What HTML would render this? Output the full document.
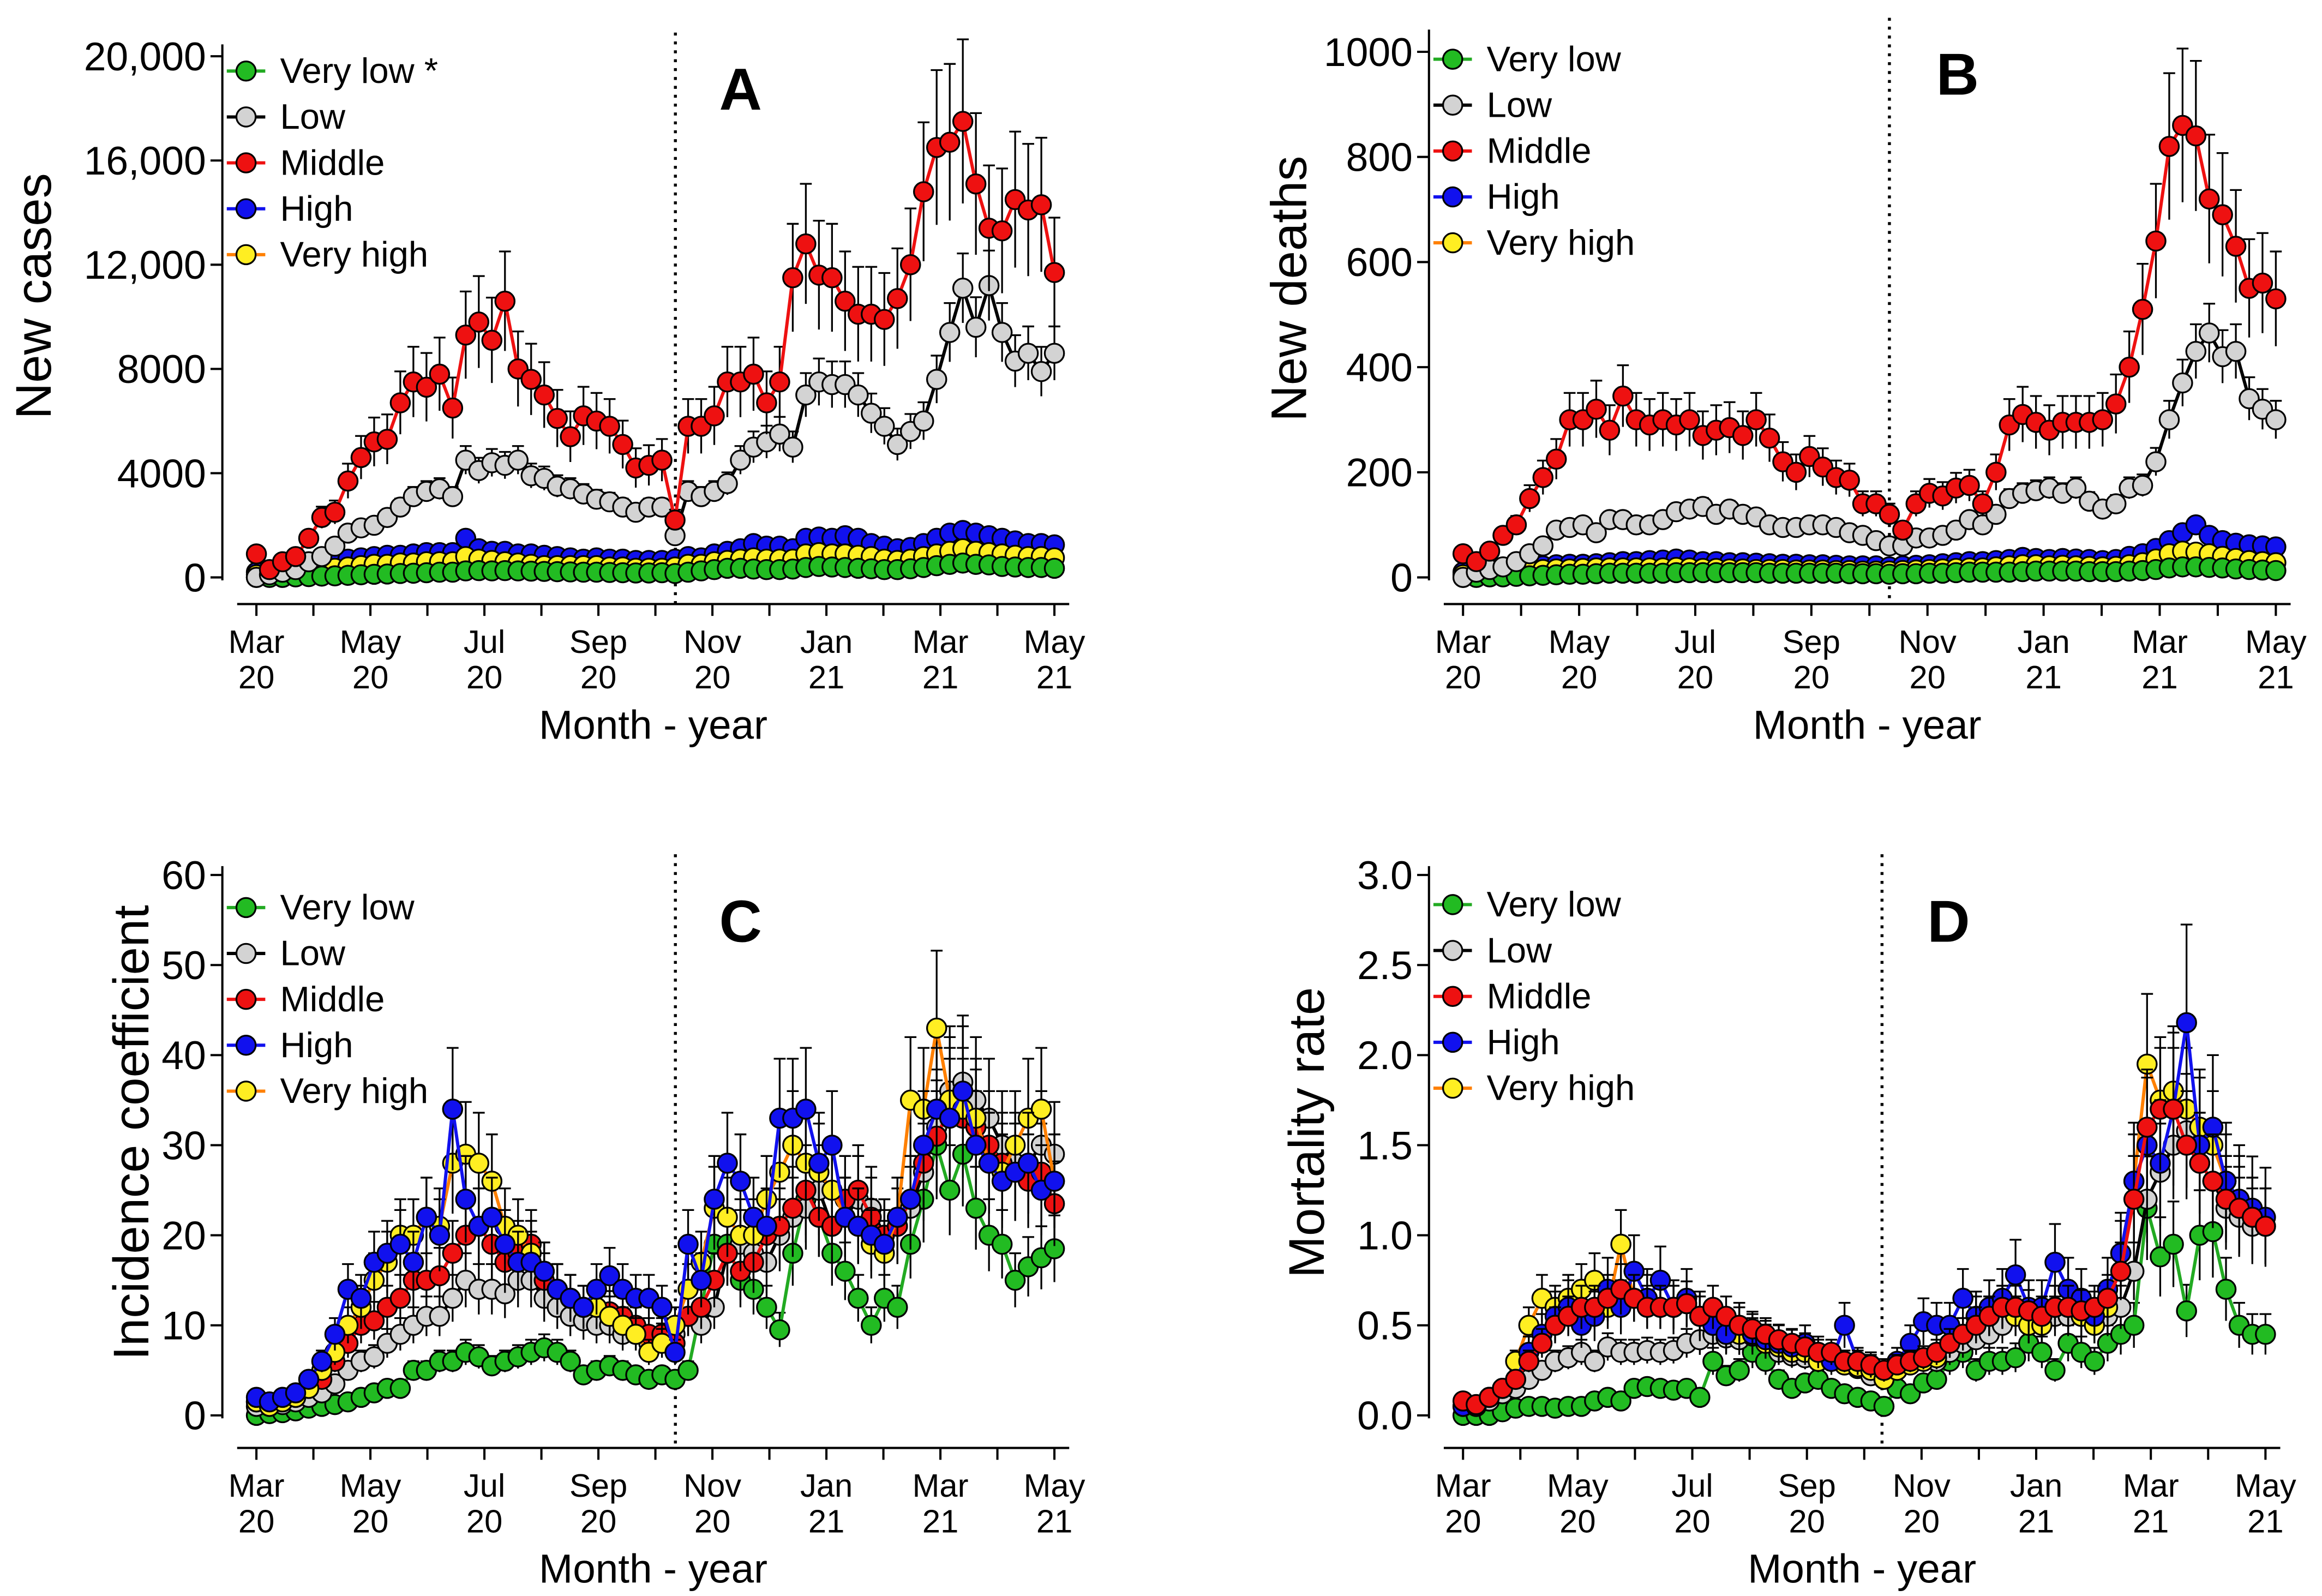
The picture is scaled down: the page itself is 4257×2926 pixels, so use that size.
<!DOCTYPE html>
<html><head><meta charset="utf-8"><style>html,body{margin:0;padding:0;background:#fff}svg{display:block}text{font-family:"Liberation Sans",sans-serif;fill:#000}</style></head>
<body>
<svg id="chart" xmlns="http://www.w3.org/2000/svg" width="4257" height="2926" viewBox="0 0 1568 1078"></svg>
<script>
const seriesNames = ["Very low","Low","Middle","High","Very high"];
const monthLabels = ["Mar","Apr","May","Jun","Jul","Aug","Sep","Oct","Nov","Dec","Jan","Feb","Mar","Apr","May"];
const yearLabels = ["20","20","20","20","20","20","20","20","20","20","21","21","21","21","21"];

const aVeryLow=[0,0,0,20,30,50,60,80,100,120,130,150,160,180,200,200,250,260,250,260,250,240,230,220,210,200,200,190,180,170,170,180,150,200,250,300,350,350,320,300,300,320,380,420,400,380,350,330,300,300,330,380,450,500,550,500,480,420,400,380,380,350];
const aLow=[0,100,200,300,600,800,1200,1700,1900,2000,2300,2700,3100,3300,3400,3100,4500,4100,4400,4300,4500,3900,3800,3500,3400,3200,3000,2900,2700,2500,2700,2700,1600,3300,3100,3300,3600,4500,5000,5200,5500,5000,7000,7500,7400,7400,7000,6300,5800,5100,5600,6000,7600,9400,11100,9600,11200,9400,8300,8600,7900,8600];
const aMiddle=[900,300,600,800,1500,2300,2500,3700,4600,5200,5300,6700,7500,7300,7800,6500,9300,9800,9100,10600,8000,7600,7000,6100,5400,6200,6000,5800,5100,4200,4300,4500,2200,5800,5800,6200,7500,7500,7800,6700,7500,11500,12800,11600,11500,10600,10100,10100,9900,10700,12000,14800,16500,16700,17500,15100,13400,13300,14500,14100,14300,11700];
const aHigh=[200,200,250,300,400,500,600,700,750,800,850,850,900,950,950,950,1500,1100,1000,1000,900,900,850,800,750,700,750,700,700,650,650,650,700,800,750,900,1000,1100,1300,1200,1200,1100,1500,1550,1500,1600,1500,1300,1200,1100,1150,1300,1500,1700,1800,1700,1600,1500,1400,1300,1300,1250];
const aVeryHigh=[100,100,150,200,250,300,350,400,450,500,500,550,550,600,600,600,800,700,650,600,550,500,450,450,450,450,450,400,400,350,350,350,400,500,500,600,650,700,750,700,700,700,900,950,900,900,850,800,700,650,700,800,900,1000,1100,1000,950,900,850,800,800,750];

const bVeryLow=[0,0,1,1,2,3,4,5,6,6,7,8,8,8,8,8,9,9,9,9,9,9,9,8,8,8,8,8,8,7,7,7,6,7,7,8,8,9,10,10,10,10,11,12,12,12,12,11,11,11,12,13,15,18,20,20,19,18,16,15,14,13];
const bLow=[0,10,15,20,30,45,60,90,95,100,85,110,110,100,100,110,125,130,135,120,130,120,115,100,95,95,100,100,95,85,80,70,60,60,75,75,80,90,110,100,120,150,160,165,170,160,170,145,130,140,170,175,220,300,370,430,465,420,430,340,320,300];
const bMiddle=[45,30,50,80,100,150,190,225,300,300,320,280,345,300,290,300,290,300,270,280,285,270,300,265,220,200,230,210,190,185,140,140,120,90,140,160,155,170,175,140,200,290,310,295,280,295,295,295,300,330,400,510,640,820,860,840,720,690,630,550,560,530];
const bHigh=[10,12,14,16,18,20,22,24,25,25,26,28,30,30,32,33,35,33,30,30,28,28,27,26,25,25,24,24,23,22,22,22,20,22,23,24,26,28,30,30,32,34,38,36,34,36,35,34,32,34,40,45,55,70,85,100,80,70,65,62,60,58];
const bVeryHigh=[5,6,8,10,12,14,15,16,16,17,18,18,18,18,18,18,19,18,17,17,16,16,15,15,15,14,14,14,13,13,12,12,12,13,14,15,16,17,18,18,20,22,24,24,22,23,22,21,20,21,24,28,35,45,50,48,45,40,36,32,30,28];

const cVeryLow=[0,0.2,0.3,0.5,0.8,1,1.2,1.5,2,2.5,3,3,5,5,6,6,7,6.5,5.5,6,6.5,7,7.5,7,6,4.5,5,5.5,5,4.5,4,4.5,4,5,12,19,19,15,14,12,9.5,18,24,22,18,16,13,10,13,12,19,24,30,25,29,23,20,19,15,16.5,17.5,18.5];
const cLow=[1,1,1.2,1.5,2,2.5,3.5,5,6,6.5,8,9,10,11,11,13,15,14,14,13.5,15,15,13,12,11,10.5,10,10,9,9,8,8.5,9,11,10,12,18,19,18,17,20,22,23,25,21,22,24,23,20,21,23,27,32,36,37,35,33,30,28,28,30,29];
const cMiddle=[1.5,1,1.5,2,3,4,6,8,10,10.5,12,13,15,15,15.5,18,20,21,19,17,18,19,15,14,13,12,12,11.5,11,10,9,9,8,11,12,15,18,16,17,20,21,23,25,22,21,24,25,22,20,21,24,28,31,34,33,32,30,28,27,26,27,23.5];
const cHigh=[2,1.5,2,2.5,4,6,9,14,13,17,18,19,17,22,20,34,24,21,22,19,17,17,16,14,13,12,14,15.5,14,13,13,12,7,19,15,24,28,26,22,21,33,33,34,28,30,22,21,20,19,22,24,30,34,33,36,30,28,26,27,28,25,26];
const cVeryHigh=[1.5,1,1.5,2,3,5,7,10,12,15,17,20,20,22,21,28,29,28,26,21,20,18,16,14,13,12,12,11,10,9,7,8,10,14,17,23,22,20,20,24,27,30,28,27,25,22,21,19,18,22,35,34,43,35,34,33,28,27,30,33,34,26];

const dVeryLow=[0,0,0,0.02,0.04,0.05,0.05,0.04,0.05,0.05,0.08,0.1,0.08,0.15,0.16,0.15,0.14,0.15,0.1,0.3,0.22,0.25,0.35,0.3,0.2,0.15,0.18,0.2,0.15,0.12,0.1,0.08,0.05,0.15,0.12,0.18,0.2,0.3,0.35,0.25,0.3,0.3,0.32,0.4,0.35,0.25,0.4,0.35,0.3,0.4,0.45,0.5,1.15,0.88,0.95,0.58,1.0,1.02,0.7,0.5,0.45,0.45];
const dLow=[0.05,0.05,0.08,0.12,0.15,0.2,0.25,0.3,0.32,0.35,0.3,0.38,0.35,0.35,0.36,0.35,0.36,0.4,0.42,0.45,0.43,0.42,0.44,0.42,0.35,0.33,0.32,0.3,0.3,0.28,0.26,0.22,0.2,0.25,0.28,0.3,0.3,0.35,0.4,0.42,0.45,0.5,0.55,0.5,0.52,0.55,0.55,0.55,0.5,0.55,0.6,0.8,1.2,1.35,1.5,1.58,1.4,1.3,1.15,1.1,1.05,1.05];
const dMiddle=[0.08,0.06,0.1,0.15,0.2,0.3,0.4,0.5,0.55,0.6,0.6,0.65,0.7,0.65,0.6,0.6,0.6,0.62,0.55,0.6,0.55,0.5,0.48,0.45,0.42,0.4,0.38,0.35,0.35,0.3,0.3,0.28,0.25,0.28,0.3,0.32,0.35,0.4,0.45,0.5,0.55,0.6,0.6,0.58,0.55,0.6,0.6,0.58,0.6,0.65,0.8,1.2,1.6,1.7,1.7,1.5,1.4,1.3,1.2,1.15,1.1,1.05];
const dHigh=[0.05,0.05,0.1,0.15,0.2,0.35,0.45,0.55,0.6,0.5,0.55,0.7,0.6,0.8,0.65,0.75,0.6,0.65,0.55,0.5,0.45,0.5,0.45,0.42,0.4,0.38,0.4,0.35,0.3,0.5,0.3,0.28,0.25,0.3,0.4,0.52,0.5,0.5,0.65,0.55,0.6,0.65,0.78,0.6,0.6,0.85,0.7,0.65,0.55,0.7,0.9,1.3,1.5,1.4,1.7,2.18,1.5,1.6,1.3,1.2,1.15,1.1];
const dVeryHigh=[0.05,0.05,0.1,0.15,0.3,0.5,0.65,0.6,0.65,0.7,0.75,0.6,0.95,0.65,0.65,0.6,0.6,0.62,0.55,0.5,0.45,0.45,0.45,0.4,0.38,0.35,0.35,0.3,0.3,0.28,0.27,0.25,0.2,0.25,0.28,0.3,0.32,0.4,0.45,0.55,0.55,0.6,0.55,0.5,0.5,0.6,0.6,0.55,0.5,0.6,0.9,1.3,1.95,1.75,1.8,1.7,1.6,1.5,1.3,1.2,1.1,1.05];

const aTicks=[0,4000,8000,12000,16000,20000];
const aTickLabels=["0","4000","8000","12,000","16,000","20,000"];
const bTicks=[0,200,400,600,800,1000];
const bTickLabels=["0","200","400","600","800","1000"];
const cTicks=[0,10,20,30,40,50,60];
const cTickLabels=["0","10","20","30","40","50","60"];
const dTicks=[0,0.5,1,1.5,2,2.5,3];
const dTickLabels=["0.0","0.5","1.0","1.5","2.0","2.5","3.0"];

const NS="http://www.w3.org/2000/svg";
const svg=document.getElementById('chart');
function mk(tag,attrs,parent){const e=document.createElementNS(NS,tag);for(const k in attrs)e.setAttribute(k,attrs[k]);(parent||svg).appendChild(e);return e;}

const fills=["#22bb22","#d3d3d3","#ee1111","#1111ee","#ffee22"];
const lines=["#22aa22","#000000","#ee1111","#1111ee","#ff8000"];

const panels=[
 {id:"a",letter:"A",title:"New cases",legend:["Very low *","Low","Middle","High","Very high"],data:[aVeryLow,aLow,aMiddle,aHigh,aVeryHigh],ticks:aTicks,tl:aTickLabels,yMax:20000,y0:390,yT:38,x0:173,x1:712,ax:150,axTop:30,xa:408,xaL:160,xaR:722,dot:456,titleX:34,titleY:200,lx:166,ly:48,letX:500,letY:74,errFrac:[0.1,0.12,0.18,0.1,0.1],draw:[3,4,0,1,2]},
 {id:"b",letter:"B",title:"New deaths",legend:["Very low","Low","Middle","High","Very high"],data:[bVeryLow,bLow,bMiddle,bHigh,bVeryHigh],ticks:bTicks,tl:bTickLabels,yMax:1000,y0:390,yT:35,x0:988,x1:1537,ax:965,axTop:20,xa:408,xaL:975,xaR:1547,dot:1276,titleX:882,titleY:195,lx:981,ly:40,letX:1322,letY:64,errFrac:[0.1,0.12,0.17,0.12,0.12],draw:[3,4,0,1,2]},
 {id:"c",letter:"C",title:"Incidence coefficient",legend:["Very low","Low","Middle","High","Very high"],data:[cVeryLow,cLow,cMiddle,cHigh,cVeryHigh],ticks:cTicks,tl:cTickLabels,yMax:60,y0:956,yT:591,x0:173,x1:712,ax:150,axTop:585,xa:978,xaL:160,xaR:722,dot:456,titleX:100,titleY:765,lx:166,ly:613,letX:500,letY:636,errFrac:[0.2,0.2,0.2,0.2,0.2],draw:[0,1,2,4,3]},
 {id:"d",letter:"D",title:"Mortality rate",legend:["Very low","Low","Middle","High","Very high"],data:[dVeryLow,dLow,dMiddle,dHigh,dVeryHigh],ticks:dTicks,tl:dTickLabels,yMax:3,y0:956,yT:591,x0:988,x1:1530,ax:965,axTop:585,xa:978,xaL:975,xaR:1540,dot:1271,titleX:894,titleY:765,lx:981,ly:611,letX:1316,letY:636,errFrac:[0.25,0.2,0.2,0.25,0.2],draw:[0,1,4,3,2]}
];

panels.forEach(p=>{
 const g=mk('g',{});
 
 
 const N=62;
 const xs=i=>p.x0+i*(p.x1-p.x0)/(N-1);
 const ys=v=>p.y0-(v/p.yMax)*(p.y0-p.yT);
 const mx=m=>p.x0+m*(p.x1-p.x0)/14;
 const ya=mk('line',{x1:p.ax,y1:p.axTop,x2:p.ax,y2:p.y0+2,stroke:'#000','stroke-width':1.5},g);
 
 
 p.ticks.forEach((t,i)=>{
  mk('line',{x1:p.ax-8,y1:ys(t),x2:p.ax,y2:ys(t),stroke:'#000','stroke-width':1.5},g);
  const tx=mk('text',{x:p.ax-11,y:ys(t)+9.5,'text-anchor':'end','font-size':27},g);
  tx.textContent=p.tl[i];
  
  
 });
 const yt=mk('text',{x:0,y:0,'text-anchor':'middle','font-size':34,transform:`translate(${p.titleX},${p.titleY}) rotate(-90)`},g);
 yt.textContent=p.title;
 
 
 const xa=mk('line',{x1:p.xaL,y1:p.xa,x2:p.xaR,y2:p.xa,stroke:'#000','stroke-width':1.5},g);
 
 
 monthLabels.forEach((m,i)=>{
  mk('line',{x1:mx(i),y1:p.xa,x2:mx(i),y2:p.xa+8,stroke:'#000','stroke-width':1.5},g);
  if(i%2===0){
   const t1=mk('text',{x:mx(i),y:p.xa+33,'text-anchor':'middle','font-size':22},g);
   t1.textContent=m;
   
   
   const t2=mk('text',{x:mx(i),y:p.xa+57,'text-anchor':'middle','font-size':22},g);
   t2.textContent=yearLabels[i];
   
   
  }
 });
 const xt=mk('text',{x:(p.xaL+p.xaR)/2,y:p.xa+91,'text-anchor':'middle','font-size':27.5},g);
 xt.textContent="Month - year";
 
 
 const dl=mk('line',{x1:p.dot,y1:p.axTop-8,x2:p.dot,y2:p.xa,stroke:'#000','stroke-width':2,'stroke-dasharray':'2,4'},g);
 
 
 p.draw.forEach(s=>{
  const d=p.data[s];
  const sg=mk('g',{},g);
  
  
  d.forEach((v,i)=>{
   const e=v*p.errFrac[s];
   const x=xs(i);
   mk('line',{x1:x,y1:ys(v+e),x2:x,y2:ys(Math.max(0,v-e)),stroke:'#000','stroke-width':1.2},sg);
   mk('line',{x1:x-4,y1:ys(v+e),x2:x+4,y2:ys(v+e),stroke:'#000','stroke-width':1.2},sg);
  });
  mk('polyline',{points:d.map((v,i)=>xs(i)+','+ys(v)).join(' '),fill:'none',stroke:lines[s],'stroke-width':2.2},sg);
  d.forEach((v,i)=>{
   const c=mk('circle',{cx:xs(i),cy:ys(v),r:6.5,fill:fills[s],stroke:'#000','stroke-width':1.2},sg);
   
   
  });
 });
 p.legend.forEach((n,s)=>{
  const y=p.ly+s*31;
  const lg=mk('g',{},g);
  
  
  mk('line',{x1:p.lx-13,y1:y,x2:p.lx+13,y2:y,stroke:lines[s],'stroke-width':2.2},lg);
  mk('circle',{cx:p.lx,cy:y,r:6.5,fill:fills[s],stroke:'#000','stroke-width':1.2},lg);
  const t=mk('text',{x:p.lx+23,y:y+8,'font-size':24},lg);
  t.textContent=n;
 });
 const L=mk('text',{x:p.letX,y:p.letY,'text-anchor':'middle','font-size':40,'font-weight':'bold'},g);
 L.textContent=p.letter;
 
 
});
</script>
</body></html>
